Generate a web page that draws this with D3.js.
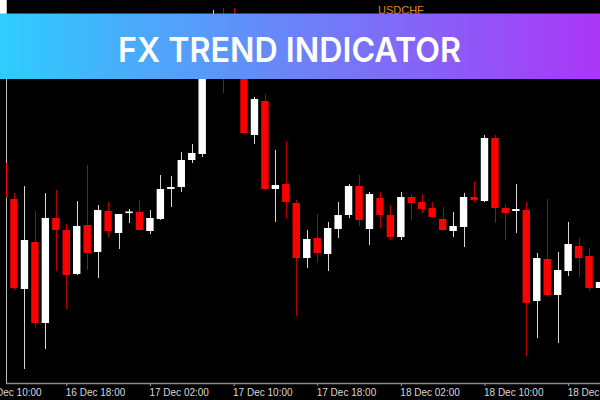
<!DOCTYPE html>
<html>
<head>
<meta charset="utf-8">
<script src="https://cdn.jsdelivr.net/npm/d3@7"></script>
<style>
  html, body { margin: 0; padding: 0; background: #000; }
  svg { display: block; }
</style>
</head>
<body>
<svg id="chart" width="600" height="400"></svg>
<script>
// ---- Data (USDCHF, H1 candles) ----
const symbol = "USDCHF";
const bannerTitle = "FX TREND INDICATOR";
const startTime = "2019-12-16T12:00:00Z"; // first candle, one bar per hour
const opens  = [0.89674,0.89602,0.89422,0.89516,0.89354,0.89564,0.89540,0.89452,0.89550,0.89496,
                0.89578,0.89534,0.89575,0.89576,0.89538,0.89562,0.89622,0.89626,0.89680,0.89692,
                0.89910,0.89956,0.89880,0.89860,0.89730,0.89798,0.89622,0.89632,0.89594,0.89484,
                0.89524,0.89492,0.89542,0.89570,0.89628,0.89542,0.89604,0.89570,0.89526,0.89606,
                0.89596,0.89584,0.89562,0.89538,0.89546,0.89606,0.89598,0.89724,0.89584,0.89578,
                0.89580,0.89398,0.89482,0.89410,0.89458,0.89508,0.89488,0.89424];
const highs  = [0.89680,0.89614,0.89628,0.89578,0.89614,0.89620,0.89552,0.89598,0.89670,0.89590,
                0.89596,0.89572,0.89582,0.89600,0.89580,0.89650,0.89648,0.89696,0.89712,0.89940,
                0.89980,0.89984,0.89984,0.89868,0.89806,0.89812,0.89700,0.89718,0.89600,0.89540,
                0.89572,0.89556,0.89596,0.89632,0.89650,0.89616,0.89616,0.89590,0.89616,0.89612,
                0.89612,0.89596,0.89586,0.89576,0.89614,0.89638,0.89730,0.89730,0.89592,0.89632,
                0.89596,0.89494,0.89602,0.89496,0.89556,0.89524,0.89504,0.89446];
const lows   = [0.89600,0.89420,0.89262,0.89344,0.89302,0.89458,0.89382,0.89450,0.89460,0.89444,
                0.89526,0.89502,0.89554,0.89540,0.89532,0.89560,0.89586,0.89616,0.89674,0.89686,
                0.89900,0.89814,0.89848,0.89734,0.89712,0.89620,0.89556,0.89562,0.89368,0.89464,
                0.89474,0.89458,0.89524,0.89564,0.89548,0.89510,0.89544,0.89520,0.89520,0.89560,
                0.89574,0.89564,0.89540,0.89526,0.89506,0.89594,0.89596,0.89554,0.89520,0.89534,
                0.89288,0.89324,0.89408,0.89314,0.89448,0.89446,0.89418,0.89390];
const closes = [0.89604,0.89424,0.89520,0.89354,0.89564,0.89540,0.89450,0.89548,0.89494,0.89580,
                0.89538,0.89572,0.89577,0.89540,0.89564,0.89622,0.89626,0.89680,0.89694,0.89920,
                0.89950,0.89880,0.89856,0.89734,0.89802,0.89622,0.89630,0.89596,0.89484,0.89522,
                0.89494,0.89544,0.89570,0.89628,0.89560,0.89612,0.89570,0.89526,0.89606,0.89594,
                0.89582,0.89566,0.89540,0.89548,0.89606,0.89600,0.89724,0.89584,0.89574,0.89582,
                0.89394,0.89484,0.89410,0.89460,0.89512,0.89484,0.89424,0.89436];
const tickLabels = ["2019-12-16T10:00:00Z","2019-12-16T18:00:00Z","2019-12-17T02:00:00Z",
                    "2019-12-17T10:00:00Z","2019-12-17T18:00:00Z","2019-12-18T02:00:00Z",
                    "2019-12-18T10:00:00Z","2019-12-18T18:00:00Z"];

// ---- Build candles ----
const HOUR = 3600 * 1000;
const t0 = new Date(startTime).getTime();
const candles = opens.map((o, i) => ({
  t: new Date(t0 + i * HOUR), o, h: highs[i], l: lows[i], c: closes[i]
}));

const W = 600, H = 400, axisY = 383, leftEdge = 6;
const svg = d3.select("#chart");
svg.append("rect").attr("width", W).attr("height", H).attr("fill", "#000");

const x = d3.scaleUtc()
  .domain([new Date(t0 + HOUR), new Date(t0 + 57 * HOUR)])
  .range([14, 599.5]);
const y = d3.scaleLinear().domain([0.89234, 0.90000]).range([axisY, 0]);

svg.append("defs").append("clipPath").attr("id", "plotClip")
  .append("rect").attr("x", leftEdge).attr("y", 0).attr("width", W - leftEdge).attr("height", axisY);

// left frame
svg.append("rect").attr("x", 0).attr("y", 0).attr("width", leftEdge).attr("height", 14).attr("fill", "#fff");
svg.append("line").attr("x1", leftEdge + 0.5).attr("x2", leftEdge + 0.5)
  .attr("y1", 0).attr("y2", axisY).attr("stroke", "#bdbdbd").attr("stroke-width", 1);

// symbol label
svg.append("text").attr("x", 378).attr("y", 14)
  .attr("font-family", "'Liberation Sans', Arial, sans-serif").attr("font-size", 11)
  .attr("fill", "#e0861c").text(symbol);

const plot = svg.append("g").attr("clip-path", "url(#plotClip)");
const bw = 7.4;
const bull = d => d.c >= d.o;

plot.selectAll("line.wick").data(candles).join("line")
  .attr("class", "wick")
  .attr("x1", d => Math.round(x(d.t)) + 0.5).attr("x2", d => Math.round(x(d.t)) + 0.5)
  .attr("y1", d => y(d.h)).attr("y2", d => y(d.l))
  .attr("stroke", d => bull(d) ? "#d6d6d6" : "#b80000").attr("stroke-width", 1);

plot.selectAll("rect.body").data(candles).join("rect")
  .attr("class", "body")
  .attr("x", d => x(d.t) - bw / 2)
  .attr("width", bw)
  .attr("y", d => y(Math.max(d.o, d.c)))
  .attr("height", d => Math.max(1.6, Math.abs(y(d.o) - y(d.c))))
  .attr("fill", d => bull(d) ? "#ffffff" : "#ff0000");

// time axis
const axis = d3.axisBottom(x)
  .tickValues(tickLabels.map(s => new Date(s)))
  .tickFormat(d3.utcFormat("%d %b %H:%M"))
  .tickSize(3).tickSizeOuter(0);
const gAxis = svg.append("g").attr("transform", `translate(0,${axisY})`).call(axis);
gAxis.select(".domain").remove();
gAxis.append("line").attr("x1", leftEdge).attr("x2", W).attr("y1", 0.5).attr("y2", 0.5)
  .attr("stroke", "#8a8a8a").attr("stroke-width", 1.5);
gAxis.selectAll(".tick line").attr("stroke", "#9a9a9a");
gAxis.selectAll(".tick text")
  .attr("text-anchor", "start").attr("dx", -1).attr("y", 13).attr("dy", 0)
  .attr("fill", "#d8d8d8")
  .attr("font-family", "'Liberation Sans', Arial, sans-serif").attr("font-size", 10);

// banner
const grad = svg.select("defs").append("linearGradient").attr("id", "bannerGrad")
  .attr("x1", "0%").attr("x2", "100%").attr("y1", "0%").attr("y2", "0%");
grad.append("stop").attr("offset", "0%").attr("stop-color", "#2ecdfd");
grad.append("stop").attr("offset", "50%").attr("stop-color", "#6c82f8");
grad.append("stop").attr("offset", "100%").attr("stop-color", "#ab36f6");
svg.append("rect").attr("x", 0).attr("y", 13.5).attr("width", W).attr("height", 65.5)
  .attr("fill", "url(#bannerGrad)");
svg.append("text").attr("x", 289.5).attr("y", 62)
  .attr("text-anchor", "middle")
  .attr("font-family", "Inter, 'Open Sans', sans-serif").attr("font-weight", 600)
  .attr("font-size", 34).attr("fill", "#ffffff")
  .attr("textLength", 343).attr("lengthAdjust", "spacingAndGlyphs")
  .text(bannerTitle);
</script>
</body>
</html>
